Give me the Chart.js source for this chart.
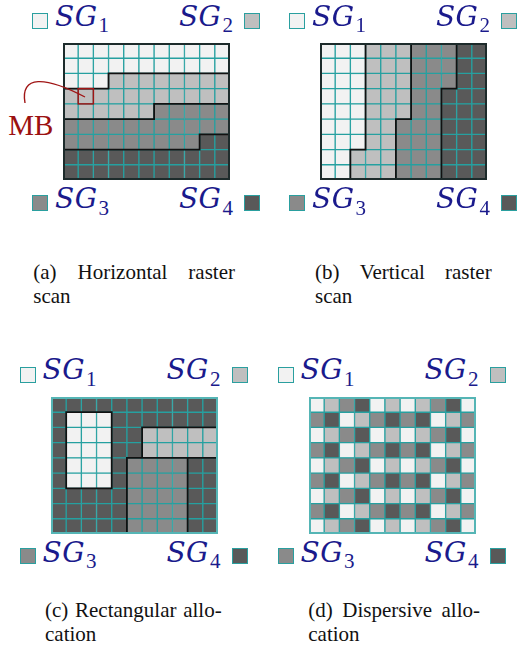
<!DOCTYPE html>
<html>
<head>
<meta charset="utf-8">
<script src="https://cdn.jsdelivr.net/npm/chart.js@4/dist/chart.umd.min.js"></script>
<style>
  html, body { margin: 0; padding: 0; background: #fff; }
  body { width: 519px; height: 663px; position: relative; overflow: hidden; }
  .panel { position: absolute; width: 262px; height: 230px; }
  .panel canvas { position: absolute; }
  .box { position: absolute; width: 16px; height: 16px; box-sizing: border-box; border: 1.5px solid #2a9f9f; }
  .sg { position: absolute; font-family: "DejaVu Serif", serif; font-size: 28px; line-height: 28px; color: #1a1a8c; white-space: nowrap; }
  .sg .m { font-style: italic; letter-spacing: 0.5px; font-weight: normal; }
  .sg .sub { font-family: "Liberation Serif", serif; font-size: 21px; position: relative; top: 6.3px; margin-left: 1px; }
  .cap { position: absolute; font-family: "Liberation Serif", "Times New Roman", serif; font-size: 21px; line-height: 24px; color: #111; white-space: nowrap; }
  .cap .l1 { display: flex; justify-content: space-between; }
  .mb { position: absolute; font-family: "Liberation Serif", serif; font-size: 29px; line-height: 29px; color: #9b1111; }
  svg.ann { position: absolute; left: 0; top: 0; overflow: visible; }
</style>
</head>
<body>
<script>
// ---- Data: slice-group map of each 11x9 macroblock frame (row by row, top first) ----
const groupNames = ["SG1", "SG2", "SG3", "SG4"];
const groupColors = ["#f2f2f2", "#bfbfbf", "#8a8a8a", "#595959"];

const horizontalRaster = [
  "11111111111",
  "11111111111",
  "11122222222",
  "22222222222",
  "22222233333",
  "33333333333",
  "33333333344",
  "44444444444",
  "44444444444"
];
const verticalRaster = [
  "11122233344",
  "11122233344",
  "11122233344",
  "11122233444",
  "11122233444",
  "11122333444",
  "11122333444",
  "11222333444",
  "11222333444"
];
const rectangular = [
  "44444444444",
  "41114444444",
  "41114422222",
  "41114422222",
  "41114333344",
  "41114333344",
  "44444333344",
  "44444333344",
  "44444333344"
];
const dispersive = [
  "12341212341",
  "34123434123",
  "12341212341",
  "34123434123",
  "12341212341",
  "34123434123",
  "12341212341",
  "34123434123",
  "12341212341"
];
const mbCell = { row: 3, col: 1 };   // highlighted macroblock in (a)

const captions = [
  { words: ["(a)", "Horizontal", "raster"], line2: "scan" },
  { words: ["(b)", "Vertical", "raster"], line2: "scan" },
  { words: ["(c)", "Rectangular", "allo-"], line2: "cation" },
  { words: ["(d)", "Dispersive", "allo-"], line2: "cation" }
];

// ---- Layout ----
const panels = [
  { grid: horizontalRaster, dx: 0,     dy: 0,     outer: "#1d2b2b", bounds: true,  mark: mbCell,
    cap: { x: 33.3, y: 260, w: 201.7 } },
  { grid: verticalRaster,   dx: 257,   dy: 0,     outer: "#1d2b2b", bounds: true,  mark: null,
    cap: { x: 315, y: 260, w: 176.7 } },
  { grid: rectangular,      dx: -12.5, dy: 353.5, outer: "#55b5b5", bounds: true,  mark: null,
    cap: { x: 45, y: 598, w: 176.7 } },
  { grid: dispersive,       dx: 245.5, dy: 353.5, outer: "#55b5b5", bounds: false, mark: null,
    cap: { x: 308.3, y: 598, w: 171.7 } }
];

const cellGridPlugin = {
  id: "cellGrid",
  afterDatasetsDraw(chart, args, opts) {
    const { ctx } = chart;
    const xs = chart.scales.x, ys = chart.scales.y;
    const g = opts.grid, R = g.length, C = g[0].length;
    const xb = c => xs.getPixelForValue(c - 0.5);
    const yb = r => ys.getPixelForValue(R - r);
    ctx.save();
    if (opts.bounds) {
      ctx.strokeStyle = "#111";
      ctx.lineWidth = 1.8;
      ctx.lineCap = "square";
      ctx.beginPath();
      for (let r = 0; r < R; r++) {
        for (let c = 0; c < C; c++) {
          if (c + 1 < C && g[r][c] !== g[r][c + 1]) {
            ctx.moveTo(xb(c + 1), yb(r)); ctx.lineTo(xb(c + 1), yb(r + 1));
          }
          if (r + 1 < R && g[r][c] !== g[r + 1][c]) {
            ctx.moveTo(xb(c), yb(r + 1)); ctx.lineTo(xb(c + 1), yb(r + 1));
          }
        }
      }
      ctx.stroke();
    }
    const lw = 2;
    ctx.strokeStyle = opts.outer;
    ctx.lineWidth = lw;
    ctx.strokeRect(xb(0) + lw / 2, yb(0) + lw / 2, xb(C) - xb(0) - lw, yb(R) - yb(0) - lw);
    if (opts.mark) {
      const m = opts.mark;
      ctx.strokeStyle = "#a01515";
      ctx.lineWidth = 1.5;
      ctx.strokeRect(xb(m.col), yb(m.row), xb(m.col + 1) - xb(m.col), yb(m.row + 1) - yb(m.row));
    }
    ctx.restore();
  }
};

function el(tag, cls, parent, style) {
  const e = document.createElement(tag);
  if (cls) e.className = cls;
  if (style) Object.assign(e.style, style);
  parent.appendChild(e);
  return e;
}

panels.forEach((p, pi) => {
  const div = el("div", "panel", document.body, { left: p.dx + "px", top: p.dy + "px" });

  // legend boxes + labels
  const boxPos = [[32, 13], [244, 13], [32, 194.5], [244, 194.5]];
  boxPos.forEach((b, i) => {
    el("div", "box", div, { left: b[0] + "px", top: b[1] + "px", background: groupColors[i] });
  });
  const lbl = (i, style) => {
    const t = el("div", "sg", div, style);
    const m = el("span", "m", t); m.textContent = groupNames[i].slice(0, 2);
    const s = el("span", "sub", t); s.textContent = groupNames[i].slice(2);
  };
  // DejaVu Serif: ascent .928, descent .236 -> baseline at ~0.846em in a 1em line box
  lbl(0, { left: "55px", top: "2.8px" });
  lbl(1, { left: "113px", width: "120px", textAlign: "right", top: "2.8px" });
  lbl(2, { left: "55px", top: "185.3px" });
  lbl(3, { left: "113px", width: "120px", textAlign: "right", top: "185.3px" });

  // grid chart
  const cv = el("canvas", null, div, { left: "63.3px", top: "43.3px" });
  cv.width = 167; cv.height = 137;
  const R = p.grid.length;
  const labels = p.grid[0].split("").map((_, c) => String(c + 1));
  const datasets = [];
  for (let r = R - 1; r >= 0; r--) {          // bottom row first in the stack
    const row = p.grid[r].split("").map(Number);
    datasets.push({
      label: "row " + (r + 1),
      data: row.map(() => 1),
      backgroundColor: row.map(g => groupColors[g - 1]),
      borderColor: "#26a0a0",
      borderWidth: 1,
      borderSkipped: false,
      barPercentage: 1,
      categoryPercentage: 1
    });
  }
  new Chart(cv, {
    type: "bar",
    data: { labels, datasets },
    options: {
      responsive: false,
      animation: false,
      devicePixelRatio: 1,
      layout: { padding: 0 },
      scales: {
        x: { stacked: true, display: false },
        y: { stacked: true, display: false, min: 0, max: R }
      },
      plugins: {
        legend: { display: false },
        tooltip: { enabled: false },
        cellGrid: { grid: p.grid, bounds: p.bounds, outer: p.outer, mark: p.mark }
      }
    },
    plugins: [cellGridPlugin]
  });

  if (p.mark) {
    const mb = el("div", "mb", div, { left: "8.3px", top: "110.7px" });
    mb.textContent = "MB";
    const svgNS = "http://www.w3.org/2000/svg";
    const svg = document.createElementNS(svgNS, "svg");
    svg.setAttribute("class", "ann");
    svg.setAttribute("width", "262"); svg.setAttribute("height", "230");
    const path = document.createElementNS(svgNS, "path");
    path.setAttribute("d", "M25,103 C20,75 45,76 85,97");
    path.setAttribute("stroke", "#a01515");
    path.setAttribute("stroke-width", "1.4");
    path.setAttribute("fill", "none");
    svg.appendChild(path);
    div.appendChild(svg);
  }

  // caption
  const c = captions[pi];
  const cap = el("div", "cap", document.body, { left: p.cap.x + "px", top: p.cap.y + "px", width: p.cap.w + "px" });
  const l1 = el("div", "l1", cap);
  c.words.forEach(w => { const s = el("span", null, l1); s.textContent = w; });
  const l2 = el("div", null, cap); l2.textContent = c.line2;
});
</script>
</body>
</html>
